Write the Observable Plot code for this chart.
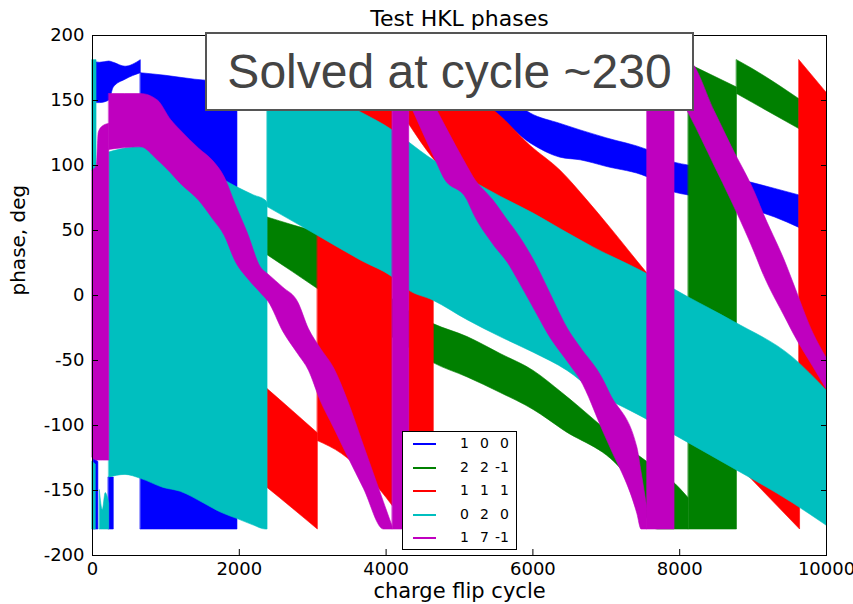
<!DOCTYPE html>
<html>
<head>
<meta charset="utf-8">
<script src="https://cdn.jsdelivr.net/npm/d3@7"></script>
<script src="https://cdn.jsdelivr.net/npm/@observablehq/plot@0.6"></script>
<style>
  body { margin: 0; background: #fff; }
  #wrap { position: relative; width: 853px; height: 604px; font-family: "DejaVu Sans", sans-serif; }
  #note {
    position: absolute; left: 205px; top: 32px; width: 489px; height: 79px;
    box-sizing: border-box; border: 2px solid #555; background: #fff;
    font-family: "Liberation Sans", Arial, sans-serif; font-size: 48px; color: #444;
    display: flex; align-items: center; justify-content: center;
  }
  #legend {
    position: absolute; left: 402px; top: 431px; width: 115px; height: 119px;
    box-sizing: border-box; border: 1px solid #000; background: #fff;
    font-size: 14px; color: #000;
  }
  .entry { position: absolute; left: 0; width: 113px; height: 20px; }
  .swatch { position: absolute; left: 10px; width: 23px; height: 2px; top: 9px; }
  .col { position: absolute; top: 1px; text-align: right; width: 20px; }
</style>
</head>
<body>
<div id="wrap"></div>
<script>
// Phase bands per reflection: each band is a run of [cycle, lower phase, upper phase] in degrees.
// Where a phase wraps across ±180 the trace sweeps the whole range, giving the tall blocks.
const blueBands = [
  [[20, 148, 180], [100, 148, 179], [230, 150, 180], [290, 160, 179], [450, 166, 176], [658, 171, 181]],
  [[658, -180, 171], [1000, -180, 169], [1400, -180, 166], [1975, -180, 164]],
  [[15, -180, -125], [80, -180, -128]],
  [[222, -180, -140], [290, -180, -140]],
  [[4600, 150, 176], [5100, 145, 168], [5518, 137, 160], [5969, 117, 140], [6377, 106, 132], [6649, 104, 127],
   [7000, 99, 121], [7560, 91, 112], [7942, 79, 102], [8119, 77, 100], [8758, 69, 90], [9300, 60, 82], [9630, 52, 77]]
];

const greenBands = [
  [[2385, 31, 60], [2730, 18, 54], [3070, 5, 48], [4306, -40, -12], [4646, -52, -22], [5110, -63, -32],
   [5560, -75, -45], [6009, -88, -58], [6400, -103, -75], [7290, -140, -117], [7700, -180, -134],
   [7942, -180, -145], [8123, -180, -156]],
  [[8123, -180, 178], [8780, -180, 160]],
  [[8780, 155, 181], [9000, 148, 174], [9630, 128, 151]]
];

const redBands = [
  [[2385, -148, -72], [2730, -164, -89], [3070, -180, -106]],
  [[3070, -112, 150], [3400, -122, 150], [3650, -134, 150], [3925, -150, 150], [4090, -162, 150]],
  [[4310, -180, 20], [4650, -180, 20]],
  [[4310, 132, 182], [4646, 105, 170], [4800, 95, 165], [5518, 62, 140], [5969, 38, 115], [6377, 16, 96],
   [6743, -8, 73], [7056, -28, 52], [7560, -60, 17], [8000, -85, -11], [8990, -142, -71], [9640, -180, -110]],
  [[9630, -150, 181], [10000, -150, 156]]
];

const cyanBands = [
  [[0, 96, 181], [55, 96, 181]],
  [[0, -180, -128], [45, -180, -130]],
  [[100, -180, -150], [140, -180, -165], [180, -180, -152], [228, -180, -160]],
  [[228, -140, 110], [450, -138, 113], [658, -141, 114], [970, -148, 111], [1202, -151, 101], [1520, -160, 95],
   [1750, -167, 90], [1978, -172, 83], [2200, -177, 77], [2360, -180, 73], [2385, -180, 71]],
  [[2385, 68, 181], [3068, 46, 158], [3653, 27, 141], [4090, 14, 127], [4306, 4, 118], [4646, -4, 104],
   [5110, -19, 90], [5560, -32, 76], [6009, -44, 63], [6472, -58, 48], [6824, -73, 37], [7506, -94, 18],
   [8105, -113, -1], [8731, -133, -20], [9548, -160, -48], [10000, -177, -73]]
];

const magentaBands = [
  [[0, -125, 96], [60, -127, 100], [85, -127, 125], [140, -127, 130], [228, -127, 132]],
  [[228, 112, 155], [658, 114, 155], [890, 104, 150], [1070, 94, 135], [1200, 86, 127], [1450, 73, 113],
   [1650, 58, 103], [1800, 46, 91], [1950, 26, 70], [2115, 13, 48], [2290, 2, 22], [2400, -5, 16],
   [2600, -28, 6], [2800, -45, -5], [2950, -58, -26], [3100, -80, -40], [3300, -103, -57], [3480, -124, -81],
   [3700, -149, -116], [3970, -180, -159], [4090, -180, -178]],
  [[4090, -180, 181], [4315, -180, 181]],
  [[4315, 149, 181], [4370, 142, 176], [4700, 101, 142], [4783, 91, 133], [5110, 73, 99], [5191, 63, 91],
   [5463, 39, 73], [5694, 22, 55], [5735, 18, 52], [6062, -15, 22], [6200, -29, 6], [6513, -54, -29],
   [6649, -65, -40], [6961, -105, -65], [7056, -117, -76], [7423, -168, -117], [7480, -180, -136], [7560, -180, -164]],
  [[7560, -180, 181], [7930, -180, 181]],
  [[7930, 162, 181], [8105, 142, 181], [8143, 138, 180], [8473, 100, 142], [8704, 73, 115], [9071, 26, 73],
   [9099, 22, 69], [9466, -20, 22], [9548, -29, 10], [9820, -55, -29], [10000, -72, -48]]
];

const seriesNames = ["1 0 0", "2 2 -1", "1 1 1", "0 2 0", "1 7 -1"];
const seriesColors = ["#0000ff", "#008000", "#ff0000", "#00bfbf", "#bf00bf"];
const seriesBands = [blueBands, greenBands, redBands, cyanBands, magentaBands];

const xTicks = [0, 2000, 4000, 6000, 8000, 10000];
const yTicks = [-200, -150, -100, -50, 0, 50, 100, 150, 200];

const rowsOf = (bands) => bands.flatMap((band, seg) => band.map(([c, lo, hi]) => ({seg, c, lo, hi})));

const bandMarks = seriesBands.map((bands, i) =>
  Plot.areaY(rowsOf(bands), {
    x: "c", y1: "lo", y2: "hi", z: "seg", curve: "monotone-x",
    fill: seriesColors[i], stroke: seriesColors[i], strokeWidth: 0.6
  })
);

const chart = Plot.plot({
  width: 853, height: 604,
  marginLeft: 92, marginRight: 27, marginTop: 35, marginBottom: 49,
  x: {domain: [0, 10000], label: null},
  y: {domain: [-200, 200], label: null},
  style: {fontFamily: "DejaVu Sans", fontSize: "18px", color: "#000", background: "#fff"},
  marks: [
    ...bandMarks,
    Plot.frame({stroke: "#000", strokeWidth: 1}),
    // inward tick marks on all four sides
    Plot.axisX(xTicks, {anchor: "bottom", tickSize: 6, dy: -6, tickFormat: () => "", label: null}),
    Plot.axisX(xTicks, {anchor: "top", tickSize: 6, dy: 6, tickFormat: () => "", label: null}),
    Plot.axisY(yTicks, {anchor: "left", tickSize: 6, dx: 6, tickFormat: () => "", label: null}),
    Plot.axisY(yTicks, {anchor: "right", tickSize: 6, dx: -6, tickFormat: () => "", label: null}),
    // tick labels
    Plot.axisX(xTicks, {anchor: "bottom", tickSize: 0, tickPadding: 7, tickFormat: (d) => String(d), label: null, fontSize: 18}),
    Plot.axisY(yTicks, {anchor: "left", tickSize: 0, tickPadding: 8, tickFormat: (d) => String(d), label: null, fontSize: 18}),
    // titles
    Plot.text(["Test HKL phases"], {frameAnchor: "top", dy: -17, fontSize: 22, lineAnchor: "middle"}),
    Plot.text(["charge flip cycle"], {frameAnchor: "bottom", dy: 36, fontSize: 21, lineAnchor: "middle"}),
    Plot.text(["phase, deg"], {frameAnchor: "left", dx: -74, rotate: -90, fontSize: 20, lineAnchor: "middle"})
  ]
});

const wrap = document.getElementById("wrap");
wrap.appendChild(chart);

const note = document.createElement("div");
note.id = "note";
note.textContent = "Solved at cycle ~230";
wrap.appendChild(note);

const legend = document.createElement("div");
legend.id = "legend";
seriesNames.forEach((name, i) => {
  const entry = document.createElement("div");
  entry.className = "entry";
  entry.style.top = (2 + i * 23.5) + "px";
  const sw = document.createElement("div");
  sw.className = "swatch";
  sw.style.background = seriesColors[i];
  entry.appendChild(sw);
  name.split(" ").forEach((part, j) => {
    const col = document.createElement("span");
    col.className = "col";
    col.style.left = (46 + j * 20) + "px";
    col.textContent = part;
    entry.appendChild(col);
  });
  legend.appendChild(entry);
});
wrap.appendChild(legend);
</script>
</body>
</html>
